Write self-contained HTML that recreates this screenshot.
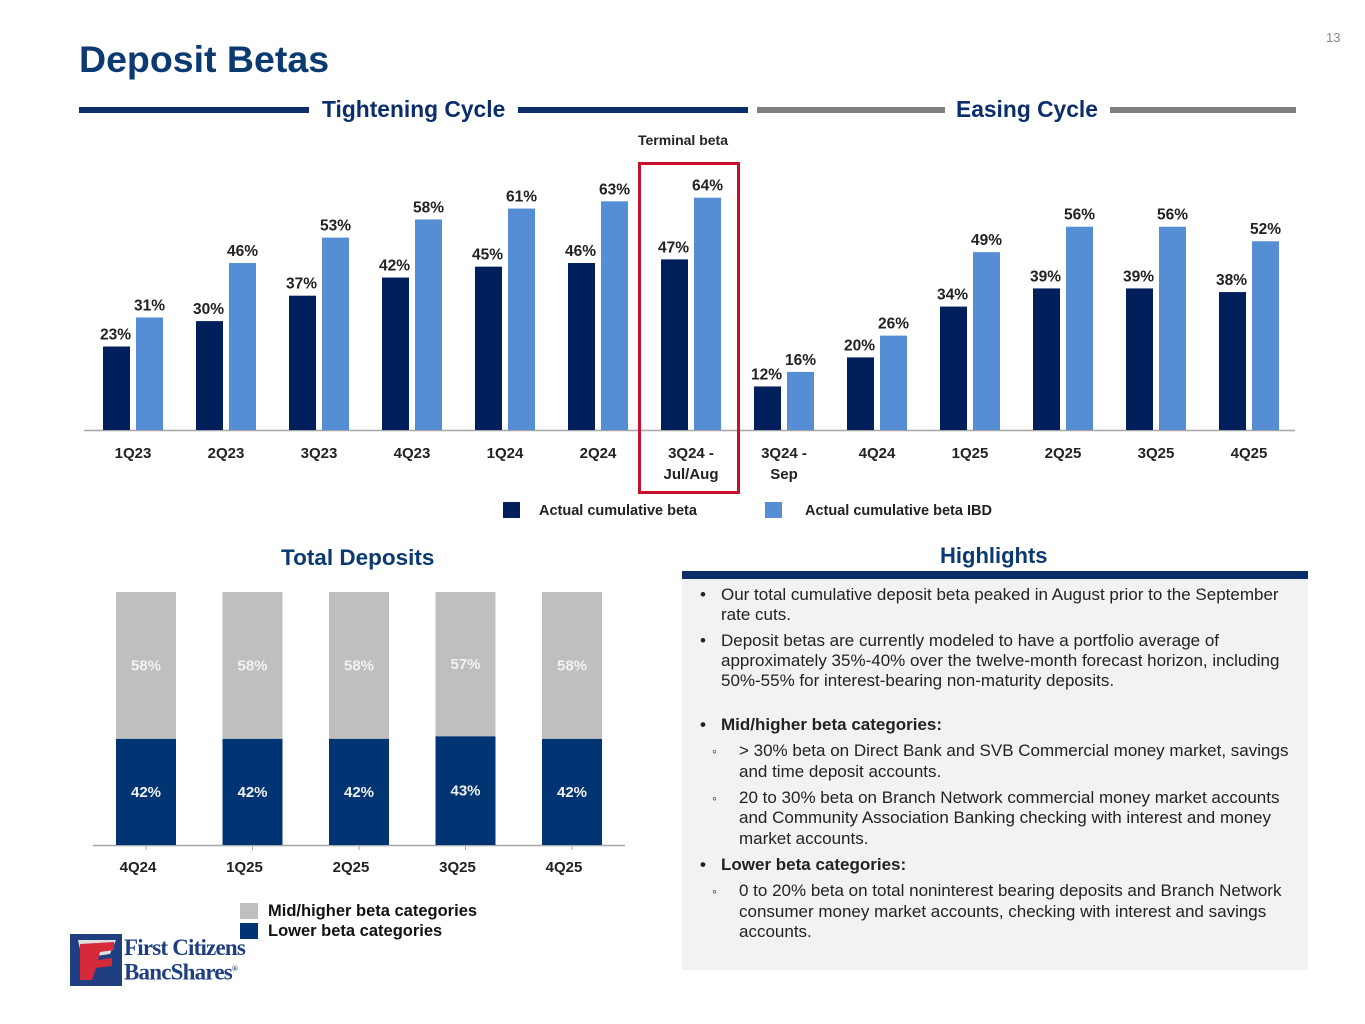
<!DOCTYPE html>
<html><head><meta charset="utf-8"><style>
body{margin:0;width:1365px;height:1024px;background:#fff;position:relative;overflow:hidden;font-family:"Liberation Sans",Arial,sans-serif;}
.a{position:absolute;white-space:nowrap;}
.hl{position:absolute;font-size:17px;color:#222;white-space:nowrap;line-height:20px;}
</style></head><body>
<div class="a" style="left:1326px;top:30px;font-size:13px;color:#888;">13</div>
<div class="a" style="left:79px;top:38px;font-size:37.5px;font-weight:bold;color:#0b3a73;">Deposit Betas</div>

<div class="a" style="left:79px;top:107px;width:230px;height:6px;background:#0b2d6b;"></div>
<div class="a" style="left:322px;top:96px;font-size:22.8px;font-weight:bold;color:#0b2d6b;">Tightening Cycle</div>
<div class="a" style="left:518px;top:107px;width:230px;height:6px;background:#0b2d6b;"></div>
<div class="a" style="left:757px;top:107px;width:188px;height:6px;background:#808080;"></div>
<div class="a" style="left:956px;top:96px;font-size:22.8px;font-weight:bold;color:#0b2d6b;">Easing Cycle</div>
<div class="a" style="left:1110px;top:107px;width:186px;height:6px;background:#808080;"></div>
<div class="a" style="left:638px;top:132px;font-size:14px;font-weight:bold;color:#222;">Terminal beta</div>

<svg id="topchart" class="a" style="left:0;top:0" width="1365" height="540"></svg>
<svg id="botchart" class="a" style="left:0;top:0" width="680" height="960"></svg>

<div class="a" style="left:281px;top:545px;font-size:22.5px;font-weight:bold;color:#0b3a73;">Total Deposits</div>
<div class="a" style="left:240px;top:903px;width:18px;height:16px;background:#bfbfbf;"></div>
<div class="a" style="left:268px;top:902px;font-size:16.5px;font-weight:bold;color:#111;">Mid/higher beta categories</div>
<div class="a" style="left:240px;top:923px;width:18px;height:16px;background:#003473;"></div>
<div class="a" style="left:268px;top:922px;font-size:16.5px;font-weight:bold;color:#111;">Lower beta categories</div>

<div class="a" style="left:70px;top:932px;width:190px;height:56px;">
<svg width="52" height="52" style="position:absolute;left:0;top:2px"><rect x="0" y="0" width="52" height="52" fill="#1f3f82"/><path d="M8 6 L46 6 L40 20 L12 24 Z" fill="#e0e0e0"/><path d="M10 10 L44 8 L44 16 L30 18 L28 26 L42 24 L42 32 L26 34 L22 46 L10 46 Z" fill="#d42a3a"/></svg>
<div class="a" style="left:54px;top:5px;font-family:'Liberation Serif',serif;font-size:23px;font-weight:bold;color:#1f3f82;letter-spacing:-0.8px;line-height:22px;">First Citizens</div>
<div class="a" style="left:54px;top:26px;font-family:'Liberation Serif',serif;font-size:23px;font-weight:bold;color:#1f3f82;letter-spacing:-0.8px;line-height:22px;">BancShares<sup style="font-size:8px">®</sup></div>
</div>

<div class="a" style="left:940px;top:543px;font-size:22px;font-weight:bold;color:#0b3a73;">Highlights</div>
<div class="a" style="left:682px;top:571px;width:626px;height:399px;background:#f2f2f2;"></div>
<div class="a" style="left:682px;top:571px;width:626px;height:8px;background:#0b2d6b;"></div>

<div class="hl" style="left:700px;top:585px;">•</div>
<div class="hl" style="left:721px;top:585px;">Our total cumulative deposit beta peaked in August prior to the September</div>
<div class="hl" style="left:721px;top:605px;">rate cuts.</div>
<div class="hl" style="left:700px;top:631px;">•</div>
<div class="hl" style="left:721px;top:631px;">Deposit betas are currently modeled to have a portfolio average of</div>
<div class="hl" style="left:721px;top:651px;">approximately 35%-40% over the twelve-month forecast horizon, including</div>
<div class="hl" style="left:721px;top:671px;">50%-55% for interest-bearing non-maturity deposits.</div>
<div class="hl" style="left:700px;top:715px;font-weight:bold;">•</div>
<div class="hl" style="left:721px;top:715px;font-weight:bold;">Mid/higher beta categories:</div>
<div class="hl" style="left:712px;top:741px;font-size:14px;">◦</div>
<div class="hl" style="left:739px;top:741px;">&gt; 30% beta on Direct Bank and SVB Commercial money market, savings</div>
<div class="hl" style="left:739px;top:762px;">and time deposit accounts.</div>
<div class="hl" style="left:712px;top:788px;font-size:14px;">◦</div>
<div class="hl" style="left:739px;top:788px;">20 to 30% beta on Branch Network commercial money market accounts</div>
<div class="hl" style="left:739px;top:808px;">and Community Association Banking checking with interest and money</div>
<div class="hl" style="left:739px;top:829px;">market accounts.</div>
<div class="hl" style="left:700px;top:855px;font-weight:bold;">•</div>
<div class="hl" style="left:721px;top:855px;font-weight:bold;">Lower beta categories:</div>
<div class="hl" style="left:712px;top:881px;font-size:14px;">◦</div>
<div class="hl" style="left:739px;top:881px;">0 to 20% beta on total noninterest bearing deposits and Branch Network</div>
<div class="hl" style="left:739px;top:902px;">consumer money market accounts, checking with interest and savings</div>
<div class="hl" style="left:739px;top:922px;">accounts.</div>

<script>
const categories = ["1Q23","2Q23","3Q23","4Q23","1Q24","2Q24","3Q24 -|Jul/Aug","3Q24 -|Sep","4Q24","1Q25","2Q25","3Q25","4Q25"];
const betaValues = [23,30,37,42,45,46,47,12,20,34,39,39,38];
const betaIbdValues = [31,46,53,58,61,63,64,16,26,49,56,56,52];
const depCategories = ["4Q24","1Q25","2Q25","3Q25","4Q25"];
const lowerBeta = [42,42,42,43,42];
const midHigherBeta = [58,58,58,57,58];

const NS="http://www.w3.org/2000/svg";
function mk(svg,tag,attrs,text){const e=document.createElementNS(NS,tag);for(const k in attrs)e.setAttribute(k,attrs[k]);if(text!==undefined)e.textContent=text;svg.appendChild(e);return e;}

const topSvg=document.getElementById('topchart');
const base=430, pxPer=3.63;
const xC=i=>130+i*93.0;
const yT=v=>base-v*pxPer;
mk(topSvg,'line',{x1:84,x2:1295,y1:base+0.5,y2:base+0.5,stroke:'#a6a6a6','stroke-width':1.5});
categories.forEach((c,i)=>{
  const cx=xC(i);
  const b1=mk(topSvg,'rect',{x:cx-27,y:yT(betaValues[i]),width:27,height:betaValues[i]*pxPer,fill:'#001f5b'});
  
  
  const b2=mk(topSvg,'rect',{x:cx+6,y:yT(betaIbdValues[i]),width:27,height:betaIbdValues[i]*pxPer,fill:'#558ed5'});
  
  
  const l1=mk(topSvg,'text',{x:cx-14.5,y:yT(betaValues[i])-7,'text-anchor':'middle','font-size':15.5,'font-weight':'bold',fill:'#222'},betaValues[i]+'%');
  
  
  const l2=mk(topSvg,'text',{x:cx+19.5,y:yT(betaIbdValues[i])-7,'text-anchor':'middle','font-size':15.5,'font-weight':'bold',fill:'#222'},betaIbdValues[i]+'%');
  
  
  c.split('|').forEach((p,j)=>{
    const t=mk(topSvg,'text',{x:cx+3,y:458+j*21,'text-anchor':'middle','font-size':15,'font-weight':'bold',fill:'#222'},p);
    
    
  });
});
const box=mk(topSvg,'rect',{x:639.5,y:163.5,width:99,height:329,fill:'none',stroke:'#c8102e','stroke-width':3});


const lg1=mk(topSvg,'rect',{x:503,y:502,width:17,height:16,fill:'#001f5b'});


const lt1=mk(topSvg,'text',{x:539,y:515,'font-size':14.5,'font-weight':'bold',fill:'#222'},'Actual cumulative beta');


const lg2=mk(topSvg,'rect',{x:765,y:502,width:17,height:16,fill:'#558ed5'});


const lt2=mk(topSvg,'text',{x:805,y:515,'font-size':14.5,'font-weight':'bold',fill:'#222'},'Actual cumulative beta IBD');



const botSvg=document.getElementById('botchart');
const bBase=845, bScale=2.53;
const bx=i=>146+i*106.5;
mk(botSvg,'line',{x1:93,x2:625,y1:bBase+0.5,y2:bBase+0.5,stroke:'#a6a6a6','stroke-width':1.5});
depCategories.forEach((c,i)=>{
  const cx=bx(i);
  const lh=lowerBeta[i]*bScale, mh=midHigherBeta[i]*bScale;
  const r1=mk(botSvg,'rect',{x:cx-30,y:bBase-lh,width:60,height:lh,fill:'#003473'});
  
  
  const r2=mk(botSvg,'rect',{x:cx-30,y:bBase-lh-mh,width:60,height:mh,fill:'#bfbfbf'});
  
  
  const t1=mk(botSvg,'text',{x:cx,y:bBase-lh/2+5,'text-anchor':'middle','font-size':15,'font-weight':'bold',fill:'#f2f2f2'},lowerBeta[i]+'%');
  
  
  const t2=mk(botSvg,'text',{x:cx,y:bBase-lh-mh/2+5,'text-anchor':'middle','font-size':15,'font-weight':'bold',fill:'#f2f2f2'},midHigherBeta[i]+'%');
  
  
  mk(botSvg,'line',{x1:cx,x2:cx,y1:bBase,y2:bBase+5,stroke:'#a6a6a6'});
  const t3=mk(botSvg,'text',{x:cx-8,y:872,'text-anchor':'middle','font-size':15,'font-weight':'bold',fill:'#222'},c);
  
  
});
</script>
</body></html>
